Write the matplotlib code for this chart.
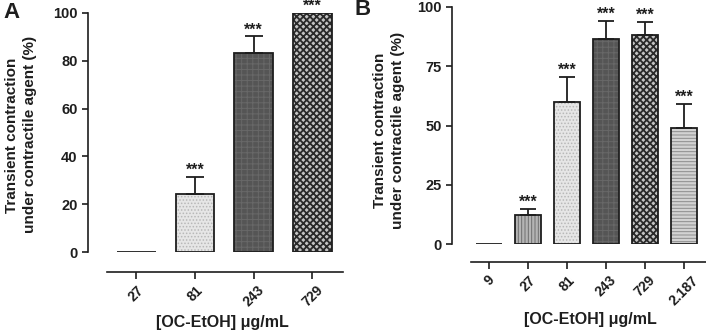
import numpy as np
import matplotlib
matplotlib.use('Agg')
import matplotlib.pyplot as plt

plt.rcParams['font.family'] = ['Liberation Sans', 'DejaVu Sans']
plt.rcParams['font.weight'] = 'bold'
plt.rcParams['hatch.linewidth'] = 0.7

# panel A
conc_a = ['27', '81', '243', '729']
mean_a = [0, 24.3, 83.2, 100]
err_a = [0, 7.2, 7.0, 0]
star_a = ['', '***', '***', '***']

# panel B
conc_b = ['9', '27', '81', '243', '729', '2.187']
mean_b = [0, 12.4, 59.8, 86.5, 88.0, 48.9]
err_b = [0, 2.3, 10.7, 7.8, 5.8, 10.1]
star_b = ['', '***', '***', '***', '***', '***']

# face, hatch, hatch colour, hatch width per concentration
styles = {
    '9': ('#cccccc', '', '#cccccc', 0.7),
    '27': ('#b4b4b4', '|||||', '#6e6e6e', 0.7),
    '81': ('#e6e6e6', '.....', '#b8b8b8', 0.7),
    '243': ('#555555', '+++', '#686868', 0.7),
    '729': ('#c4c4c4', 'xxxxx', '#2a2a2a', 1.3),
    '2.187': ('#d2d2d2', '-----', '#8c8c8c', 0.7),
}

fig = plt.figure(figsize=(7.06, 3.31), dpi=100)
axA = fig.add_axes([88/706, 1-252/331, 255/706, 239/331])
axB = fig.add_axes([452/706, 1-244/331, 254/706, 237/331])

ink = '#1e1e1e'


def panel(ax, conc, mean, err, stars, xlim, yticks, capsize, offset, xbounds,
          ylab_xy, xlab_xy, letter_xy, letter):
    x = np.arange(len(conc))
    for i, c in enumerate(conc):
        face, hatch, hc, hlw = styles[c]
        if mean[i] > 0:
            with plt.rc_context({'hatch.linewidth': hlw}):
                ax.bar(x[i], mean[i], width=0.66, color=face, hatch=hatch,
                       edgecolor=hc, linewidth=0, zorder=2)
        ax.bar(x[i], mean[i], width=0.66, fill=False, edgecolor=ink,
               linewidth=1.3, zorder=3)
        if err[i] > 0:
            ax.errorbar(x[i], mean[i], yerr=[[0], [err[i]]], fmt='none',
                        ecolor=ink, elinewidth=1.3, capsize=capsize,
                        capthick=1.3, zorder=4)
        if stars[i]:
            ax.annotate(stars[i], (x[i], mean[i] + err[i]), xytext=(0, 1.5),
                        textcoords='offset points', ha='center', va='baseline',
                        fontsize=11.5, fontweight='bold', color=ink,
                        annotation_clip=False)
    ax.set_xlim(*xlim)
    ax.set_ylim(0, yticks[-1])
    ax.set_yticks(yticks)
    ax.set_xticks(x)
    ax.set_xticklabels(conc, fontsize=10.5, fontweight='bold')
    ax.tick_params(axis='y', labelsize=10.5, length=4, width=1.2, colors=ink)
    ax.tick_params(axis='x', length=5, width=1.2, colors=ink, pad=3,
                   labelrotation=45)
    for lab in ax.get_xticklabels():
        lab.set_ha('right')
        lab.set_rotation_mode('anchor')
        lab.set_fontweight('bold')
    for lab in ax.get_yticklabels():
        lab.set_fontweight('bold')
    for s in ['top', 'right']:
        ax.spines[s].set_visible(False)
    ax.spines['left'].set_linewidth(1.2)
    ax.spines['bottom'].set_linewidth(1.2)
    ax.spines['left'].set_color(ink)
    ax.spines['bottom'].set_color(ink)
    ax.spines['bottom'].set_position(('outward', offset))
    ax.spines['bottom'].set_bounds(*xbounds)
    ax.set_ylabel('Transient contraction\nunder contractile agent (%)',
                  fontsize=11, fontweight='bold', color=ink, linespacing=1.35,
                  va='center')
    ax.yaxis.set_label_coords(*ylab_xy)
    ax.set_xlabel('[OC-EtOH] μg/mL', fontsize=11.5, fontweight='bold', color=ink,
                  va='center')
    ax.xaxis.set_label_coords(*xlab_xy)
    ax.text(letter_xy[0], letter_xy[1], letter, transform=ax.transAxes,
            fontsize=16, fontweight='bold', ha='left', va='center', color=ink)


panel(axA, conc_a, mean_a, err_a, star_a, (-0.82, 3.52), [0, 20, 40, 60, 80, 100],
      6.8, 14.4, (-0.49, 3.52), (-0.263, 0.49), (0.525, -0.293), (-0.33, 1.0), 'A')
panel(axB, conc_b, mean_b, err_b, star_b, (-0.95, 5.56), [0, 25, 50, 75, 100],
      6.1, 13.0, (-0.46, 5.56), (-0.248, 0.48), (0.543, -0.32), (-0.385, 0.99), 'B')

fig.savefig('out.png', dpi=100)
